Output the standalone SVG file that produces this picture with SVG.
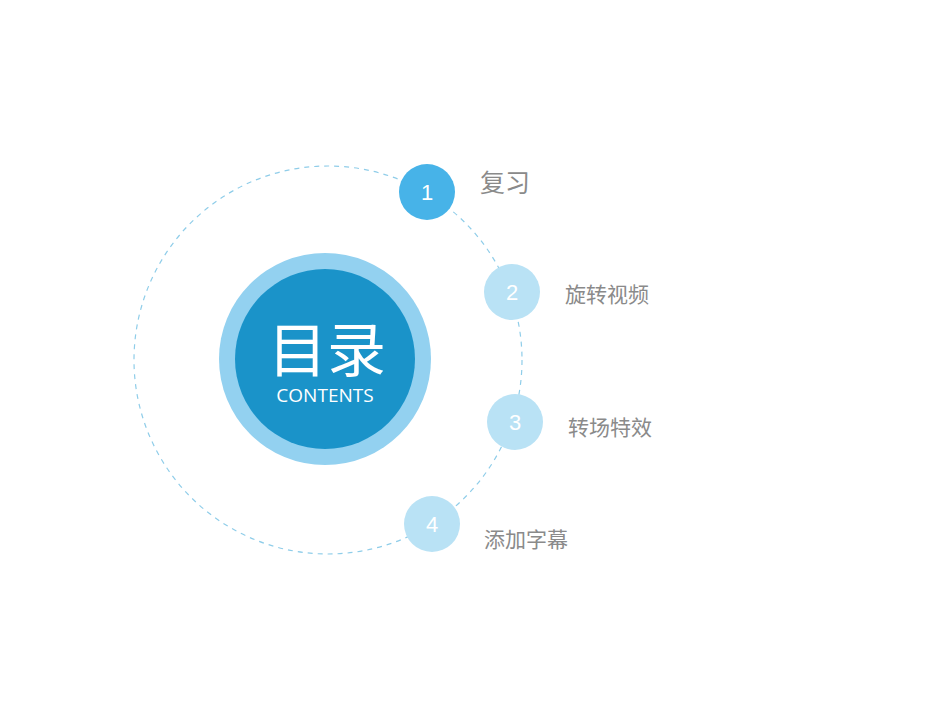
<svg xmlns="http://www.w3.org/2000/svg" width="950" height="713" viewBox="0 0 950 713">
<style>
.num{font-family:"Liberation Sans",Arial,sans-serif;font-size:22px;fill:#fff;text-anchor:middle}
.lbl{font-family:"Noto Sans CJK SC","Noto Sans",sans-serif;fill:#8a8a8a;font-size:21px}
.sm{fill:#b9e2f5}
</style>
<rect width="950" height="713" fill="#fff"/>
<g id="connectors">
<circle cx="328" cy="360" r="194" fill="none" stroke="#8fcde9" stroke-width="1.2" stroke-dasharray="5 5"/>
</g>
<g id="center">
<circle cx="325" cy="359" r="106" fill="#93d1f0"/>
<circle cx="325" cy="359" r="90" fill="#1a93c9"/>
<text x="327" y="372" font-family="Noto Sans CJK SC,sans-serif" font-size="59" fill="#fff" text-anchor="middle">目录</text>
<text x="325" y="402" font-family="'Open Sans','Noto Sans',sans-serif" font-size="19" fill="#fff" text-anchor="middle">CONTENTS</text>
</g>
<g id="item1">
<circle cx="427" cy="192" r="28" fill="#47b3e8"/>
<text class="num" x="427" y="200">1</text>
<text class="lbl" x="480" y="192" style="font-size:25px">复习</text>
</g>
<g id="item2">
<circle class="sm" cx="512" cy="292" r="28"/>
<text class="num" x="512" y="300">2</text>
<text class="lbl" x="565" y="302">旋转视频</text>
</g>
<g id="item3">
<circle class="sm" cx="515" cy="422" r="28"/>
<text class="num" x="515" y="430">3</text>
<text class="lbl" x="568" y="435">转场特效</text>
</g>
<g id="item4">
<circle class="sm" cx="432" cy="524" r="28"/>
<text class="num" x="432" y="532">4</text>
<text class="lbl" x="484" y="547">添加字幕</text>
</g>
</svg>
